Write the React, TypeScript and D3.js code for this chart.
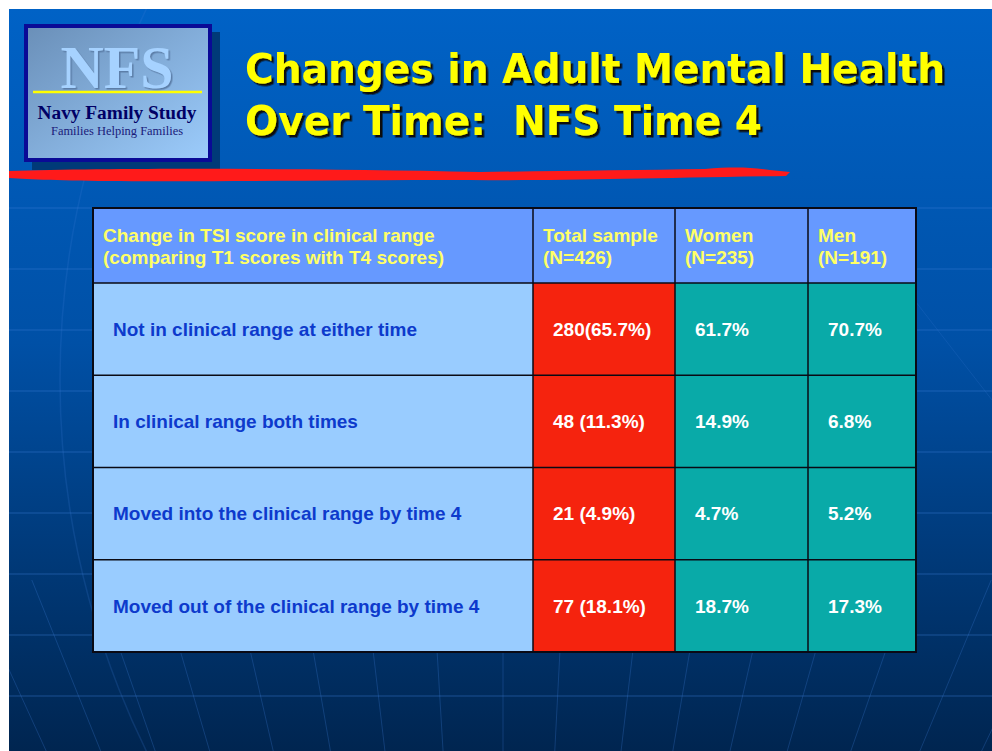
import React from 'react';
import * as d3 from 'd3';

// table content
const headerLines = [
  ['Change in TSI score in clinical range', '(comparing T1 scores with T4 scores)'],
  ['Total sample', '(N=426)'],
  ['Women', '(N=235)'],
  ['Men', '(N=191)'],
];
const rowLabels = [
  'Not in clinical range at either time',
  'In clinical range both times',
  'Moved into the clinical range by time 4',
  'Moved out of the clinical range by time 4',
];
const totalValues = ['280(65.7%)', '48 (11.3%)', '21 (4.9%)', '77 (18.1%)'];
const womenValues = ['61.7%', '14.9%', '4.7%', '18.7%'];
const menValues = ['70.7%', '6.8%', '5.2%', '17.3%'];

const titleLines = ['Changes in Adult Mental Health', 'Over Time:\u00a0\u00a0NFS Time 4'];

const W = 992;
const H = 751;
const colEdges = [93, 533, 675, 808, 916];
const fills = ['#99ccff', '#f5230e', '#09aaa8', '#09aaa8'];

export default function App() {
  const headerTop = 208;
  const headerBottom = 283;
  const tableBottom = 652;

  const y = d3
    .scaleBand<number>()
    .domain(d3.range(rowLabels.length))
    .range([headerBottom, tableBottom]);

  const columns = [rowLabels, totalValues, womenValues, menValues];

  // background perspective lines
  const hLines = d3.range(208, 700, 61);
  const fanX = [-60, 0, 60, 120, 180, 250, 313, 373, 437, 503, 560, 633, 690, 753, 816, 886, 962, 1030];
  const vp = { x: 503, y: 1750 };
  const fanTop = 580;

  const brush =
    'M9,171 C120,168 300,168 480,172 C560,171 640,170 705,169 C730,167 750,167 770,170 L790,172 ' +
    'L786,176 C650,178 560,181 470,180 C330,180 200,182 120,181 C60,181 30,179 9,178 Z';

  return (
    <svg
      width={W}
      height={H}
      style={{ position: 'absolute', left: 0, top: 0, display: 'block' }}
      fontFamily="'Liberation Sans', Arial, sans-serif"
    >
      <defs>
        <linearGradient id="bg" x1="0" y1="0" x2="0" y2="1">
          <stop offset="0" stopColor="#0062c6" />
          <stop offset="0.45" stopColor="#0050a6" />
          <stop offset="1" stopColor="#002550" />
        </linearGradient>
        <linearGradient id="logoBg" x1="0" y1="0" x2="1" y2="1">
          <stop offset="0" stopColor="#6a8fb8" />
          <stop offset="1" stopColor="#9cccfc" />
        </linearGradient>
        <clipPath id="slide">
          <rect x={9} y={9} width={W - 9} height={H - 9} />
        </clipPath>
        <filter id="shadow" x="-5%" y="-20%" width="110%" height="140%">
          <feDropShadow dx={2.5} dy={2.5} stdDeviation={0.3} floodColor="#111111" floodOpacity={1} />
        </filter>
        <filter id="nfsShadow" x="-10%" y="-10%" width="120%" height="130%">
          <feDropShadow dx={1.5} dy={1.5} stdDeviation={0.5} floodColor="#5b7ea8" floodOpacity={1} />
        </filter>
      </defs>

      <rect width={W} height={H} fill="#ffffff" />
      <g clipPath="url(#slide)">
        <rect x={9} y={9} width={W - 9} height={H - 9} fill="url(#bg)" />
        {hLines.map((hy) => (
          <line key={hy} x1={9} x2={W} y1={hy} y2={hy} stroke="#3d7fd6" strokeOpacity={0.3} strokeWidth={1.5} />
        ))}
        {fanX.map((fx) => {
          // line through (fx, 650) heading to vanishing point
          const k = (vp.x - fx) / (vp.y - 650);
          return (
            <line
              key={fx}
              x1={fx - k * (650 - fanTop)}
              y1={fanTop}
              x2={fx + k * (H - 650)}
              y2={H}
              stroke="#3d7fd6"
              strokeOpacity={0.28}
              strokeWidth={1}
            />
          );
        })}
        <circle cx={900} cy={380} r={840} fill="none" stroke="#3d7fd6" strokeOpacity={0.2} strokeWidth={1.5} />
        <line x1={860} y1={230} x2={992} y2={400} stroke="#3d7fd6" strokeOpacity={0.2} />
      </g>

      {/* logo */}
      <rect x={32} y={32} width={188} height={138} fill="#003a78" />
      <rect x={26} y={26} width={184} height={134} fill="url(#logoBg)" stroke="#0a0a96" strokeWidth={4} />
      <text
        x={117}
        y={88}
        textAnchor="middle"
        fontFamily="'Liberation Serif', 'Times New Roman', serif"
        fontWeight="bold"
        fontSize={62}
        textLength={113}
        lengthAdjust="spacingAndGlyphs"
        fill="#a6d2ff"
        filter="url(#nfsShadow)"
      >
        NFS
      </text>
      <line x1={33} x2={202} y1={92} y2={92} stroke="#ffff00" strokeWidth={2.5} />
      <text
        x={117}
        y={119}
        textAnchor="middle"
        fontFamily="'Liberation Serif', 'Times New Roman', serif"
        fontWeight="bold"
        fontSize={18}
        textLength={159}
        lengthAdjust="spacingAndGlyphs"
        fill="#000066"
      >
        Navy Family Study
      </text>
      <text
        x={117}
        y={135}
        textAnchor="middle"
        fontFamily="'Liberation Serif', 'Times New Roman', serif"
        fontSize={13}
        textLength={132}
        lengthAdjust="spacingAndGlyphs"
        fill="#1a1a7a"
      >
        Families Helping Families
      </text>

      {/* title */}
      {titleLines.map((t, i) => (
        <text
          key={t}
          x={245}
          y={83 + i * 52}
          textLength={i === 0 ? 700 : 517}
          lengthAdjust="spacingAndGlyphs"
          fontFamily="'DejaVu Sans', Verdana, sans-serif"
          fontWeight="bold"
          fontSize={41}
          fill="#ffff00"
          filter="url(#shadow)"
        >
          {t}
        </text>
      ))}

      <path d={brush} fill="#ff1a1a" />

      {/* table header */}
      {headerLines.map((lines, c) => (
        <g key={'h' + c}>
          <rect
            x={colEdges[c]}
            y={headerTop}
            width={colEdges[c + 1] - colEdges[c]}
            height={headerBottom - headerTop}
            fill="#6699ff"
          />
          {lines.map((ln, j) => (
            <text
              key={ln}
              x={colEdges[c] + 10}
              y={242 + j * 22}
              fontSize={19}
              fontWeight="bold"
              fill="#ffff66"
            >
              {ln}
            </text>
          ))}
        </g>
      ))}

      {/* table body */}
      {columns.map((vals, c) =>
        vals.map((v, r) => (
          <g key={c + '-' + r}>
            <rect
              x={colEdges[c]}
              y={y(r)!}
              width={colEdges[c + 1] - colEdges[c]}
              height={y.bandwidth()}
              fill={fills[c]}
            />
            <text
              x={colEdges[c] + 20}
              y={y(r)! + y.bandwidth() / 2}
              dy="0.36em"
              fontSize={19}
              fontWeight="bold"
              fill={c === 0 ? '#0d3acc' : '#ffffff'}
            >
              {v}
            </text>
          </g>
        ))
      )}

      {/* grid lines */}
      <g stroke="#0a0a14" strokeWidth={1.5} fill="none">
        {y.domain().map((r) => (
          <line key={'r' + r} x1={colEdges[0]} x2={colEdges[4]} y1={y(r)!} y2={y(r)!} />
        ))}
        {colEdges.slice(1, 4).map((cx) => (
          <line key={'c' + cx} x1={cx} x2={cx} y1={headerTop} y2={tableBottom} />
        ))}
        <rect
          x={colEdges[0]}
          y={headerTop}
          width={colEdges[4] - colEdges[0]}
          height={tableBottom - headerTop}
          strokeWidth={2}
        />
      </g>
    </svg>
  );
}
